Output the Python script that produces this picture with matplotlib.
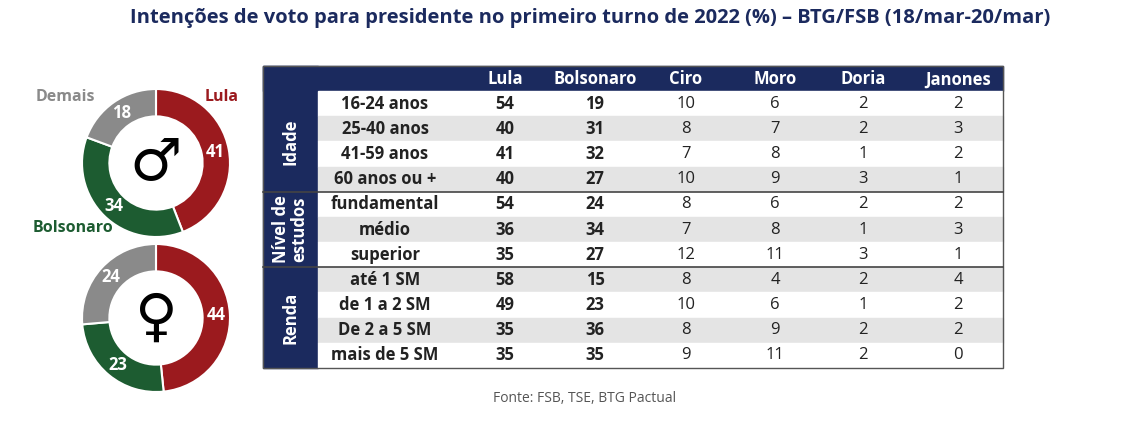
import matplotlib
matplotlib.use("Agg")
import matplotlib.pyplot as plt
from matplotlib.patches import Rectangle

plt.rcParams['font.family'] = ['Open Sans', 'DejaVu Sans']

title = "Intenções de voto para presidente no primeiro turno de 2022 (%) – BTG/FSB (18/mar-20/mar)"
source = "Fonte: FSB, TSE, BTG Pactual"

pie_labels = ["Lula", "Bolsonaro", "Demais"]
male = [41, 34, 18]
female = [44, 23, 24]
pie_colors = ["#9b1a1e", "#1d5c31", "#8a8a8a"]

columns = ["Lula", "Bolsonaro", "Ciro", "Moro", "Doria", "Janones"]
groups = ["Idade", "Nível de\nestudos", "Renda"]
group_sizes = [4, 3, 4]
rows = ["16-24 anos", "25-40 anos", "41-59 anos", "60 anos ou +",
        "fundamental", "médio", "superior",
        "até 1 SM", "de 1 a 2 SM", "De 2 a 5 SM", "mais de 5 SM"]
values = [
    [54, 19, 10, 6, 2, 2],
    [40, 31, 8, 7, 2, 3],
    [41, 32, 7, 8, 1, 2],
    [40, 27, 10, 9, 3, 1],
    [54, 24, 8, 6, 2, 2],
    [36, 34, 7, 8, 1, 3],
    [35, 27, 12, 11, 3, 1],
    [58, 15, 8, 4, 2, 4],
    [49, 23, 10, 6, 1, 2],
    [35, 36, 8, 9, 2, 2],
    [35, 35, 9, 11, 2, 0],
]

navy = "#1b2a5e"
W, H = 1124, 422
fig = plt.figure(figsize=(W / 100, H / 100), dpi=100)
ax = fig.add_axes([0, 0, 1, 1])
ax.set_xlim(0, W)
ax.set_ylim(H, 0)
ax.axis("off")

ax.text(590, 18, title, ha="center", va="center", fontsize=14.5,
        fontweight="bold", color=navy)
ax.text(585, 399, source, ha="center", va="center", fontsize=10, color="#555555")

# donuts
def donut(cx, cy, r, vals, sym):
    a = fig.add_axes([(cx - r) / W, 1 - (cy + r) / H, 2 * r / W, 2 * r / H])
    wedges, texts = a.pie(vals, colors=pie_colors, startangle=90, counterclock=False,
                          radius=1, wedgeprops=dict(width=0.37, edgecolor="white", linewidth=1.5),
                          labels=[str(v) for v in vals], labeldistance=0.82,
                          textprops=dict(color="white", fontweight="bold", fontsize=12))
    for t in texts:
        t.set_clip_on(False)
        t.set_ha("center")
        t.set_va("center")
    a.set_xlim(-1, 1)
    a.set_ylim(-1, 1)
    a.set_aspect("equal")
    a.axis("off")
    a.text(0, 0, sym, ha="center", va="center", fontsize=42, family="DejaVu Sans")

donut(156, 163, 74, male, "♂")
donut(156, 318, 74, female, "♀")
ax.text(36, 97, "Demais", ha="left", va="center", fontsize=11.5, fontweight="bold", color=pie_colors[2])
ax.text(205, 97, "Lula", ha="left", va="center", fontsize=11.5, fontweight="bold", color=pie_colors[0])
ax.text(33, 228, "Bolsonaro", ha="left", va="center", fontsize=11.5, fontweight="bold", color=pie_colors[1])

# table
x0, x1 = 263, 1003
y0, hy = 66, 91
rh = (368 - hy) / len(rows)
lab_x = 318
col_x = [505, 595, 686, 775, 863, 958]

ax.add_patch(Rectangle((x0, y0), x1 - x0, hy - y0, color=navy))
ax.add_patch(Rectangle((x0, y0), lab_x - x0, 368 - y0, color=navy))
for j, c in enumerate(columns):
    ax.text(col_x[j], (y0 + hy) / 2 + 1, c, ha="center", va="center", fontsize=12,
            color="white", fontweight="bold")

for i, (lab, vals) in enumerate(zip(rows, values)):
    yt = hy + i * rh
    ax.add_patch(Rectangle((lab_x, yt), x1 - lab_x, rh,
                           color="white" if i % 2 == 0 else "#e4e4e4"))
    yc = yt + rh / 2
    ax.text(385, yc, lab, ha="center", va="center", fontsize=12, fontweight="bold", color="#222222")
    for j, v in enumerate(vals):
        ax.text(col_x[j], yc, str(v), ha="center", va="center", fontsize=12,
                fontweight="bold" if j < 2 else "normal", color="#222222")

start = 0
for g, n in zip(groups, group_sizes):
    ya = hy + start * rh
    yb = ya + n * rh
    ax.text((x0 + lab_x) / 2, (ya + yb) / 2, g, ha="center", va="center", rotation=90,
            fontsize=12, fontweight="bold", color="white", linespacing=1.0)
    if start > 0:
        ax.plot([x0, x1], [ya, ya], color="#444444", lw=1.2)
    start += n
ax.add_patch(Rectangle((x0, y0), x1 - x0, 368 - y0, fill=False, edgecolor="#555555", lw=1))

fig.savefig("out.png", dpi=100)
